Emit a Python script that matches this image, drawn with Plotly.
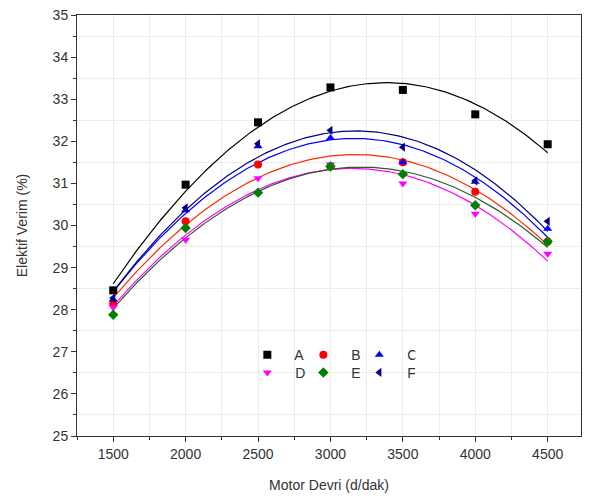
import numpy as np
import plotly.graph_objects as go

rpm = [1500, 2000, 2500, 3000, 3500, 4000, 4500]
series_names = ["A", "B", "C", "D", "E", "F"]
A = [28.46, 30.97, 32.45, 33.28, 33.22, 32.64, 31.93]
B = [28.15, 30.10, 31.45, 31.40, 31.50, 30.80, 29.62]
C = [28.24, 30.36, 31.88, 32.08, 31.50, 31.04, 29.92]
D = [28.05, 29.66, 31.12, 31.45, 31.00, 30.28, 29.33]
E = [27.88, 29.94, 30.78, 31.40, 31.22, 30.48, 29.62]
F = [28.28, 30.42, 31.94, 32.26, 31.86, 31.06, 30.10]
values = [A, B, C, D, E, F]

marker_colors = ["#000000", "#ff0000", "#0000ff", "#ff00ff", "#008000", "#000080"]
line_colors = ["#000000", "#ff2a00", "#0000ff", "#ff00ff", "#2e5a2e", "#000080"]
symbols = ["square", "circle", "triangle-up", "triangle-down", "diamond", "triangle-left"]

fig = go.Figure()
xfit = np.linspace(min(rpm), max(rpm), 200)
for name, vals, lc in zip(series_names, values, line_colors):
    coef = np.polyfit(rpm, vals, 2)
    fig.add_trace(go.Scatter(x=xfit, y=np.polyval(coef, xfit), mode="lines",
                             line=dict(color=lc, width=1.2), showlegend=False,
                             hoverinfo="skip"))
for i, (name, vals, mc, sym) in enumerate(zip(series_names, values, marker_colors, symbols)):
    fig.add_trace(go.Scatter(x=rpm, y=vals, mode="markers", name="  " + name,
                             marker=dict(symbol=sym, color=mc, size=8, line=dict(width=0)),
                             legend="legend" if i < 3 else "legend2"))

font = dict(family="Liberation Sans, Arial, sans-serif", size=14, color="#333333")
axis_common = dict(showline=True, linecolor="#333333", linewidth=1, mirror=True,
                   ticks="outside", ticklen=5, tickcolor="#333333", showgrid=False,
                   zeroline=False, tickfont=font, automargin=False,
                   ticklabeloverflow="allow")
fig.update_layout(
    width=590, height=491,
    margin=dict(l=69, r=17, t=7, b=63),
    plot_bgcolor="white", paper_bgcolor="white",
    font=font,
    xaxis=dict(range=[1250, 4730], tickmode="array", tickvals=rpm,
               minor=dict(dtick=250, tick0=1250, ticks="outside", ticklen=3,
                          tickcolor="#333333", showgrid=True, gridcolor="#ececec", gridwidth=1),
               title=dict(text="Motor Devri (d/dak)", font=font, standoff=19),
               **axis_common),
    yaxis=dict(range=[25, 35], dtick=1, tick0=25,
               minor=dict(dtick=0.5, tick0=25, ticks="outside", ticklen=3,
                          tickcolor="#333333", showgrid=True, gridcolor="#ececec", gridwidth=1),
               title=dict(text="Elektif Verim (%)", font=font, standoff=21),
               **axis_common),
    legend=dict(orientation="h", x=0.338, y=0.192, xanchor="left", yanchor="middle",
                bgcolor="rgba(0,0,0,0)", font=font, entrywidth=11, itemwidth=30,
                tracegroupgap=0),
    legend2=dict(orientation="h", x=0.338, y=0.150, xanchor="left", yanchor="middle",
                 bgcolor="rgba(0,0,0,0)", font=font, entrywidth=11, itemwidth=30,
                 tracegroupgap=0),
)
fig.write_html("out.html")
